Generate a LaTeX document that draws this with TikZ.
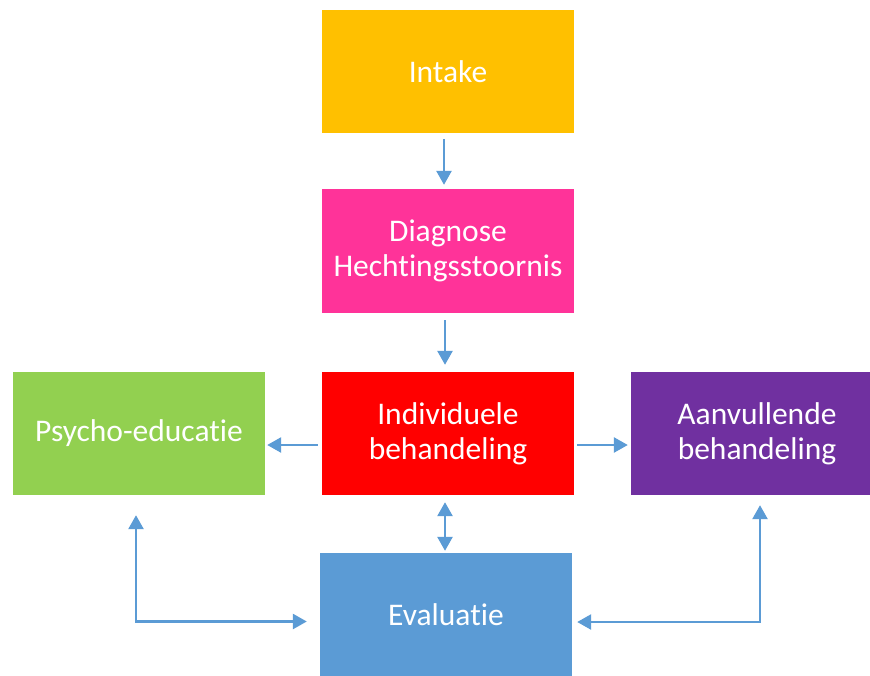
\documentclass[tikz,border=0pt]{standalone}
\usepackage{fontspec}
\setmainfont[Ligatures={NoCommon}]{Carlito}
\usetikzlibrary{arrows.meta}
\definecolor{cIntake}{HTML}{FFC000}
\definecolor{cDiag}{HTML}{FF3399}
\definecolor{cInd}{HTML}{FF0000}
\definecolor{cPsy}{HTML}{92D050}
\definecolor{cAanv}{HTML}{7030A0}
\definecolor{cEval}{HTML}{5B9BD5}
\begin{document}
\begin{tikzpicture}[x=1pt,y=-1pt,
  box/.style={rectangle, minimum width=252pt, minimum height=123pt, inner sep=0pt,
    text=white, align=center, font=\fontsize{31.5}{35}\selectfont},
  arr/.style={draw=cEval, line width=2.6pt, -{Triangle[length=14pt,width=15pt]}},
  darr/.style={draw=cEval, line width=2.6pt, {Triangle[length=14pt,width=15pt]}-{Triangle[length=14pt,width=15pt]}}]
\useasboundingbox[fill=white] (0,0) rectangle (870,675);
\node[box, fill=cIntake] (intake) at (448,71.5) {Intake};
\node[box, fill=cDiag, minimum height=124pt] (diag) at (448,251) {Diagnose\\Hechtingsstoornis};
\node[box, fill=cInd] (ind) at (448,433.5) {Individuele\\behandeling};
\node[box, fill=cPsy] (psy) at (139,433.5) {Psycho-educatie};
\node[box, fill=cAanv, minimum width=239pt] (aanv) at (750.5,433.5) {\hspace*{13pt}Aanvullende\\\hspace*{13pt}behandeling};
\node[box, fill=cEval] (eval) at (446,614.5) {Evaluatie};
\draw[arr, shorten <=6pt, shorten >=4pt] ([xshift=-4pt]intake.south) -- ([xshift=-4pt]diag.north);
\draw[arr, shorten <=7pt, shorten >=7pt] ([xshift=-3pt]diag.south) -- ([xshift=-3pt]ind.north);
\draw[arr, shorten <=4pt, shorten >=2pt] ([yshift=-11.5pt]ind.west) -- ([yshift=-11.5pt]psy.east);
\draw[arr, shorten <=3pt, shorten >=3pt] ([yshift=-11.5pt]ind.east) -- ([yshift=-11.5pt]aanv.west);
\draw[darr, shorten <=7pt, shorten >=2pt] ([xshift=-3pt]ind.south) -- ([xshift=-3pt]ind.south |- eval.north);
\draw[darr, shorten <=20pt, shorten >=13pt] ([xshift=-3pt]psy.south) |- ([yshift=-7pt]eval.west);
\draw[darr, shorten <=10pt, shorten >=5pt] ([xshift=9.5pt]aanv.south) |- ([yshift=-7.5pt]eval.east);
\end{tikzpicture}
\end{document}
